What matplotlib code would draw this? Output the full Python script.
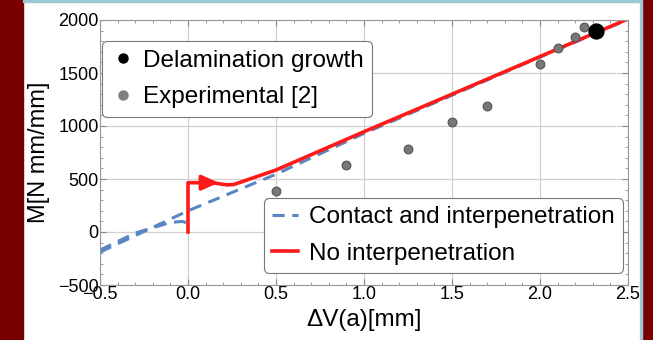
import numpy as np
import matplotlib.pyplot as plt
from matplotlib.patches import Rectangle
from matplotlib.lines import Line2D
from matplotlib.ticker import MultipleLocator

plt.rcParams['font.family'] = ['Liberation Sans', 'DejaVu Sans']

# datos experimentales [2]
exp_x = [0.5, 0.9, 1.25, 1.5, 1.7, 2.0, 2.1, 2.2, 2.25]
exp_m = [387, 635, 783, 1035, 1186, 1582, 1733, 1837, 1937]

# punto de crecimiento de delaminacion
del_x = [2.32]
del_m = [1896]

# sin interpenetracion
red_x = [0.0, 0.0, 0.05, 0.15, 0.22, 0.26, 0.5, 1.0, 1.5, 2.0, 2.5]
red_m = [0, 465, 465, 462, 445, 448, 585, 946, 1300, 1655, 2010]

# contacto e interpenetracion
blue_x = [-0.5, 0.0, 0.5, 1.0, 1.5, 2.0, 2.5]
blue_m = [-190, 200, 545, 930, 1290, 1650, 2005]
blue2_x = [-0.5, -0.3, -0.1, -0.03, 0.0]
blue2_m = [-170, -10, 90, 100, 80]

fig = plt.figure(figsize=(6.53, 3.40), dpi=100)
# marco de la diapositiva
fig.patches.append(Rectangle((0, 0), 23 / 653, 1, transform=fig.transFigure, color='#7a0000', zorder=0))
fig.patches.append(Rectangle((642 / 653, 0), 11 / 653, 1, transform=fig.transFigure, color='#7a0000', zorder=0))
fig.patches.append(Rectangle((23 / 653, 338 / 340), 619 / 653, 2 / 340, transform=fig.transFigure, color='#9cc9d6', zorder=0))
fig.patches.append(Rectangle((640 / 653, 0), 2 / 653, 338 / 340, transform=fig.transFigure, color='#9cc9d6', zorder=0))

ax = fig.add_axes([100 / 653, 55 / 340, 528 / 653, 265 / 340])

ax.plot(blue2_x, blue2_m, '--', color='#5b86c4', lw=2.2, dashes=(4, 2.5))
l_blue, = ax.plot(blue_x, blue_m, '--', color='#5b86c4', lw=2.2, dashes=(4, 2.5),
                  label='Contact and interpenetration')
l_red, = ax.plot(red_x, red_m, '-', color='#ff1a1a', lw=2.6, label='No interpenetration')
ax.annotate('', xy=(0.19, 465), xytext=(0.06, 465),
            arrowprops=dict(arrowstyle='-|>,head_length=1.0,head_width=0.45', color='#ff1a1a', lw=2.6))

ax.scatter(exp_x, exp_m, s=40, color='#777777', edgecolor='#555555', lw=0.8, zorder=4)
ax.scatter(del_x, del_m, s=115, color='black', zorder=5)

h_del = Line2D([], [], ls='none', marker='o', ms=6.5, color='black', label='Delamination growth')
h_exp = Line2D([], [], ls='none', marker='o', ms=6.5, color='#808080', label='Experimental [2]')

ax.set_xlim(-0.5, 2.5)
ax.set_ylim(-500, 2000)
ax.xaxis.set_minor_locator(MultipleLocator(0.1))
ax.yaxis.set_minor_locator(MultipleLocator(100))
ax.set_xticks([-0.5, 0.0, 0.5, 1.0, 1.5, 2.0, 2.5])
ax.set_xticklabels(['\u22120.5', '0.0', '0.5', '1.0', '1.5', '2.0', '2.5'])
ax.set_yticks([-500, 0, 500, 1000, 1500, 2000])
ax.set_yticklabels(['\u2212500', '0', '500', '1000', '1500', '2000'])
ax.tick_params(which='both', direction='in', top=True, right=True, color='#888888', labelsize=13, pad=1)
ax.tick_params(which='major', length=4)
ax.tick_params(which='minor', length=2)
for s in ax.spines.values():
    s.set_color('#999999')
ax.grid(True, which='major', color='#d0d0d0', lw=0.9)
ax.set_axisbelow(True)

ax.set_xlabel('\u0394V(a)[mm]', fontsize=17.5, labelpad=4)
ax.set_ylabel('M[N mm/mm]', fontsize=17, labelpad=6)

leg1 = ax.legend(handles=[h_del, h_exp], loc='upper left', bbox_to_anchor=(0.0, 0.93),
                 fontsize=17.5, handletextpad=0.3, handlelength=1.0, borderpad=0.35, labelspacing=0.6,
                 borderaxespad=0.1, framealpha=1, edgecolor='#777777', fancybox=True)
leg1.get_frame().set_linewidth(0.8)
ax.add_artist(leg1)
leg2 = ax.legend(handles=[l_blue, l_red], loc='lower right', bbox_to_anchor=(0.995, 0.035),
                 fontsize=17.5, handletextpad=0.45, handlelength=1.05, borderpad=0.35, labelspacing=0.6,
                 borderaxespad=0.1, framealpha=1, edgecolor='#777777', fancybox=True)
leg2.get_frame().set_linewidth(0.8)

fig.savefig('out.png', dpi=100)
